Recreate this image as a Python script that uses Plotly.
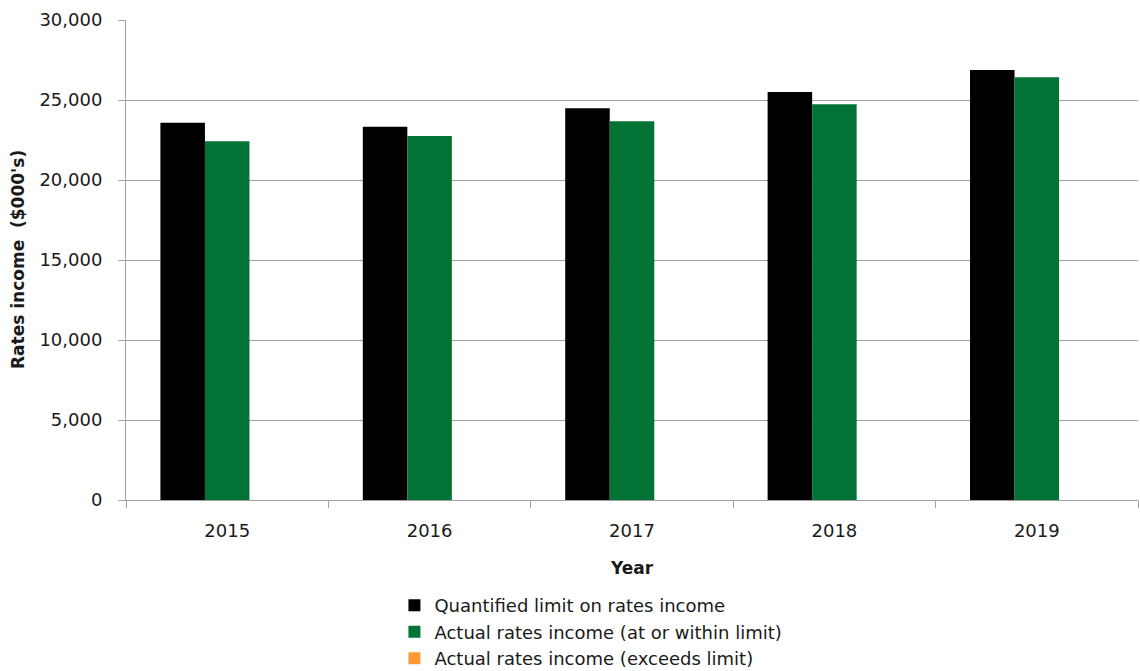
import plotly.graph_objects as go

years = ["2015", "2016", "2017", "2018", "2019"]
quantified_limit = [23580, 23330, 24480, 25500, 26880]
actual_within = [22420, 22750, 23670, 24730, 26420]
actual_exceeds = [None, None, None, None, None]

series_names = [
    "Quantified limit on rates income",
    "Actual rates income (at or within limit)",
    "Actual rates income (exceeds limit)",
]
y_ticks = [0, 5000, 10000, 15000, 20000, 25000, 30000]
y_title = "Rates income  ($000's)"

FONT = "DejaVu Sans"
GRID = "#a0a0a0"
TEXT = "#1a1a1a"

fig = go.Figure()
fig.add_trace(go.Bar(x=years, y=quantified_limit, name=series_names[0],
                     marker=dict(color="#000000", line=dict(width=0))))
fig.add_trace(go.Bar(x=years, y=actual_within, name=series_names[1],
                     marker=dict(color="#007335", line=dict(width=0))))
fig.add_trace(go.Bar(x=years, y=actual_exceeds, name=series_names[2],
                     marker=dict(color="#ff9933", line=dict(width=0))))

fig.update_layout(
    width=1140, height=671,
    margin=dict(l=126, r=2, t=20, b=171, autoexpand=False),
    paper_bgcolor="white", plot_bgcolor="white",
    barmode="group", bargap=0.34, bargroupgap=0,
    font=dict(family=FONT, size=18, color=TEXT),
    showlegend=True,
    legend=dict(
        orientation="v", xref="container", x=0.346, xanchor="left",
        yref="container", y=0.125, yanchor="top",
        font=dict(family=FONT, size=18, color=TEXT),
        tracegroupgap=0, itemwidth=30, traceorder="normal",
        bgcolor="rgba(0,0,0,0)",
    ),
    xaxis=dict(
        type="category", showgrid=False, showline=True, linecolor=GRID, linewidth=1,
        ticks="outside", tickson="boundaries", ticklen=7, tickcolor=GRID,
        ticklabelstandoff=14,
        tickfont=dict(family=FONT, size=18, color=TEXT),
        title=dict(text="<b>Year</b>", font=dict(family=FONT, size=17, color=TEXT), standoff=22),
    ),
    yaxis=dict(
        range=[0, 30000], tickvals=y_ticks, tickformat=",d",
        showgrid=True, gridcolor=GRID, gridwidth=1,
        showline=True, linecolor=GRID, linewidth=1,
        ticks="outside", ticklen=7, tickcolor=GRID, zeroline=False,
        ticklabelstandoff=12,
        tickfont=dict(family=FONT, size=18, color=TEXT),
    ),
)

# rotated value-axis title, set left of the tick labels
fig.add_annotation(
    text=f"<b>{y_title}</b>", textangle=-90, showarrow=False,
    xref="paper", yref="paper", x=-0.1067, y=0.5, xanchor="center", yanchor="middle",
    font=dict(family=FONT, size=17, color=TEXT),
)

fig.write_html("out.html")
